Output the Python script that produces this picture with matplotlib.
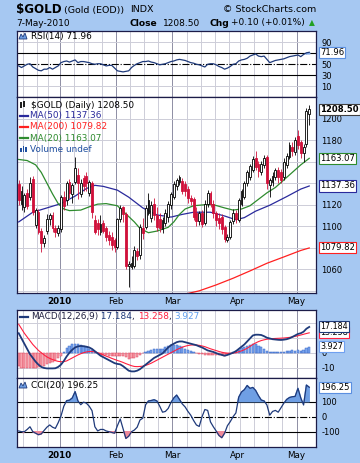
import numpy as np
import pandas as pd
import matplotlib
matplotlib.use("Agg")
import matplotlib.pyplot as plt
from matplotlib.patches import Polygon, Rectangle

plt.rcParams["font.family"] = ["DejaVu Sans"]
plt.rcParams["axes.unicode_minus"] = False

W, H = 360, 463
BG = "#a6c8f2"
RED = "#d0103a"
NAVY = "#1f3a7a"
MA50C = "#2a2a9c"
GREEN = "#2e8b2e"
MA200C = "#ff2020"

# ---- trading days shown on the chart ----
dates = pd.bdate_range("2009-12-10", "2010-05-07")
dates = dates[~dates.isin(pd.to_datetime(["2009-12-25", "2010-01-01", "2010-04-02"]))]

# ---- daily candles ----
opens = [1139, 1121, 1118, 1131, 1127, 1144, 1101, 1113, 1096, 1084, 1096, 1107, 1110, 1098, 1094,
         1097, 1127, 1124, 1141, 1130, 1141, 1148, 1130, 1145, 1147, 1131, 1140, 1106, 1103, 1095,
         1103, 1098, 1092, 1090, 1087,
         1081, 1107, 1118, 1111, 1063, 1062, 1063, 1077, 1073, 1098, 1099, 1112, 1108, 1121, 1110,
         1107, 1097, 1103, 1109, 1120,
         1127, 1137, 1141, 1142, 1139, 1135, 1126, 1125, 1112, 1105, 1112, 1103, 1121, 1131, 1121,
         1112, 1108, 1109, 1099, 1087, 1090, 1105, 1112,
         1106, 1121, 1127, 1140, 1146, 1152, 1163, 1158, 1150, 1157, 1164, 1138, 1141, 1146, 1152,
         1150, 1146, 1157, 1164, 1174, 1169,
         1184, 1178, 1168, 1176, 1204]
highs = [1143, 1137, 1131, 1135, 1146, 1147, 1117, 1116, 1098, 1092, 1111, 1112, 1113, 1101, 1101,
         1129, 1133, 1142, 1144, 1140, 1164, 1154, 1144, 1148, 1150, 1143, 1142, 1110, 1107, 1110,
         1106, 1100, 1096, 1095, 1089,
         1108, 1120, 1119, 1113, 1068, 1072, 1082, 1080, 1102, 1108, 1120, 1131, 1123, 1126, 1118,
         1112, 1109, 1116, 1123, 1132,
         1142, 1145, 1148, 1145, 1142, 1137, 1129, 1127, 1118, 1114, 1115, 1124, 1134, 1133, 1124,
         1114, 1112, 1111, 1101, 1093, 1106, 1116, 1115,
         1126, 1135, 1142, 1152, 1158, 1165, 1170, 1161, 1161, 1166, 1166, 1145, 1150, 1154, 1155,
         1153, 1163, 1168, 1178, 1178, 1183,
         1189, 1180, 1176, 1210, 1213]
lows = [1120, 1115, 1113, 1116, 1124, 1110, 1098, 1093, 1076, 1081, 1093, 1101, 1095, 1090, 1091,
        1095, 1115, 1120, 1126, 1122, 1139, 1125, 1127, 1133, 1133, 1128, 1108, 1093, 1092, 1092,
        1094, 1086, 1083, 1078, 1076,
        1079, 1104, 1104, 1060, 1044, 1060, 1061, 1069, 1070, 1088, 1097, 1110, 1104, 1106, 1096,
        1095, 1094, 1100, 1104, 1116,
        1125, 1134, 1138, 1130, 1128, 1122, 1120, 1106, 1100, 1101, 1099, 1101, 1118, 1118, 1108,
        1100, 1097, 1093, 1085, 1085, 1088, 1102, 1103,
        1104, 1119, 1125, 1137, 1143, 1150, 1152, 1146, 1148, 1154, 1135, 1127, 1137, 1143, 1140,
        1140, 1143, 1154, 1162, 1165, 1166,
        1172, 1163, 1160, 1174, 1194]
closes = [1124, 1133, 1129, 1119, 1140, 1113, 1115, 1095, 1084, 1089, 1107, 1110, 1098, 1095, 1098,
          1127, 1119, 1140, 1131, 1138, 1154, 1140, 1140, 1137, 1140, 1141, 1113, 1095, 1097, 1102,
          1096, 1090, 1087, 1083, 1081,
          1107, 1117, 1111, 1063, 1065, 1066, 1078, 1072, 1099, 1094, 1117, 1124, 1120, 1110, 1099,
          1098, 1106, 1112, 1121, 1130,
          1139, 1143, 1146, 1133, 1133, 1126, 1123, 1109, 1105, 1112, 1102, 1121, 1131, 1121, 1112,
          1106, 1103, 1097, 1088, 1090, 1104, 1112, 1107,
          1124, 1133, 1140, 1150, 1156, 1162, 1155, 1151, 1158, 1163, 1140, 1143, 1147, 1152, 1146,
          1143, 1160, 1165, 1175, 1170, 1180,
          1175, 1168, 1174, 1207, 1208.5]

# ---- moving averages ----
ma20_at = [0, 3, 6, 8, 10, 12, 14, 16, 18, 22, 25, 28, 31, 35, 37, 41, 43, 46, 49, 53, 55, 57,
           59, 62, 66, 69, 73, 76, 79, 82, 85, 88, 91, 94, 97, 100, 103]
ma20 = [1162, 1161, 1157, 1150, 1140, 1130, 1121, 1116, 1114.5, 1115, 1118, 1120.5, 1121, 1119,
        1114, 1104, 1098, 1094, 1095.5, 1099, 1104, 1111, 1116, 1119, 1120, 1120, 1117, 1115,
        1116, 1119, 1125, 1131, 1136, 1143, 1150, 1157, 1163.07]
ma50_at = [0, 5, 10, 15, 20, 24, 27, 30, 35, 39, 44, 49, 54, 58, 62, 68, 73, 77, 80, 84, 89, 95,
           100, 103]
ma50 = [1104, 1113, 1117, 1121, 1128, 1135, 1138, 1137, 1133.5, 1127, 1117, 1110.5, 1108.5, 1111,
        1113, 1113, 1109.5, 1106, 1108, 1114, 1119.5, 1127.5, 1134.5, 1137.36]
ma200_at = [59, 64, 70, 76, 82, 88, 94, 100, 103]
ma200 = [1037, 1040, 1045.5, 1051.7, 1058.5, 1065.6, 1071.5, 1077.5, 1079.82]

# ---- indicators ----
rsi = [47, 44, 47, 50, 51, 45, 42, 39, 38, 41, 41, 44, 41, 44, 47,
       53, 55, 56, 54, 56, 58, 53, 55, 55, 54, 53, 51, 50, 51, 51, 49, 47, 48, 48, 43,
       38, 37, 36, 37, 38, 44, 48, 51, 53, 55, 55, 56, 54, 53, 51, 49, 50, 51, 53, 55,
       56, 58, 59, 58, 57, 55, 53, 52, 50, 49, 47, 45, 50, 51, 51, 49, 46, 44, 41, 43, 46, 50, 51,
       56, 58, 59, 61, 65, 67, 69, 65, 64, 65, 59, 53, 55, 57, 58, 59, 60, 62, 64, 65, 66,
       67, 64, 68, 71, 71.96]
macd = [13, 9.5, 6, 2.5, -1, -3.5, -6, -8, -9.5, -10.2, -10.5, -10.5, -10.5, -10.4, -9.5,
        -8, -5.5, -2.5, 0, 2, 3.5, 4.2, 4.5, 4.3, 4, 3.5, 2.5, 1, -0.5, -2, -3, -4, -5, -6, -7,
        -7.5, -7.8, -9, -10.5, -12, -12.5, -12.5, -12, -11, -9.5, -8, -6.5, -5, -3.5, -2.5,
        -1.5, -0.5, 1.5, 3.5, 5,
        6, 7, 7.5, 7.5, 7, 6.5, 6, 5.5, 5, 4.2, 3.5, 2.5, 1.5, 1, 0.5, -0.3, -1, -1.5, -2, -1.5,
        -0.8, 0, 1,
        2.5, 4, 5.5, 7.5, 9.5, 11.5, 12, 12, 11.8, 11, 10, 9.5, 9, 8.8, 8.6, 8.5, 8.7, 9, 9.6,
        10.5, 11.5,
        12.5, 13, 14, 16, 17.184]
signal = [19, 16, 13, 10.5, 8, 5.5, 3.5, 1.5, 0, -1.5, -2.8, -3.8, -4.6, -5.3, -5.8,
          -6, -6, -5.5, -4.5, -3.5, -2.5, -1.5, -0.7, 0, 0.5, 0.8, 0.8, 0.5, 0, -0.7, -1.5, -2.3,
          -3, -3.8, -4.5,
          -5.2, -5.8, -6.5, -7.3, -8, -8.7, -9.2, -9.3, -9.2, -9, -8.5, -7.8, -7, -6, -5, -4, -3,
          -2, -1, 0,
          1, 2, 2.9, 3.7, 4.3, 4.8, 5.1, 5.2, 5.1, 4.9, 4.5, 4, 3.3, 2.6, 2, 1.4, 0.8, 0.3, -0.1,
          -0.4, -0.4, -0.3, 0,
          0.6, 1.2, 2, 3, 4.2, 5.5, 6.5, 7.4, 8.1, 8.6, 9, 9.2, 9.4, 9.5, 9.6, 9.7, 9.8, 10, 10.2,
          10.5, 10.9,
          11.3, 11.8, 12.3, 12.8, 13.258]
hist = [-9, -10, -10.5, -10.5, -10.5, -10, -10, -9.5, -9, -8.7, -7.7, -6.7, -5.9, -5.1, -3.7,
        -2, 0.5, 3, 4.5, 5.5, 6, 5.7, 5.2, 4.3, 3.5, 2.7, 1.7, 0.5, -0.5, -1.3, -1.5, -1.7, -2,
        -2.2, -2.5,
        -2.3, -2, -2.5, -3.2, -4, -3.8, -3.3, -2.7, -1.8, -0.5, 0.5, 1.3, 2, 2.5, 2.5, 2.5, 2.5,
        3.5, 4.5, 5,
        5, 5, 4.6, 3.8, 2.7, 1.7, 0.9, 0.3, -0.1, -0.7, -1, -1.5, -1.8, -1.6, -1.5, -1.7, -1.8,
        -1.8, -1.9, -1.1, -0.4, 0.3, 1,
        1.9, 2.8, 3.5, 4.5, 5.3, 6, 5.5, 4.6, 3.7, 2.4, 1, 0.5, 0.2, 0.3, 0.5, 0.3, 0.5, 0.8, 1,
        1.5, 1.2,
        1.8, 1.2, 2, 3.2, 3.927]
cci = [-95, -100, -100, -85, -67, -100, -110, -120, -115, -92, -70, -55, -70, -78, -40,
       5, 70, 107, 110, 125, 167, 105, 80, 97, 90, 70, 40, -67, -95, -85, -85, -95, -100, -105, -110,
       -60, -15, -80, -145, -130, -100, -89, -70, -22, -10, 80, 105, 108, 113, 105, 70, 30, 35, 55, 95,
       125, 144, 115, 85, 65, 35, 10, -25, -55, -65, 0, 48, 42, -35, -67, -95, -125, -140, -110,
       -60, -33, 0, 25,
       130, 165, 180, 208, 189, 195, 175, 140, 111, 105, 78, 10, 35, 42, 30, 60, 90, 115, 128, 133,
       135,
       189, 125, 78, 211, 196.25]

n = len(closes)
x = np.arange(n)
o, hi, lo, c = map(np.array, (opens, highs, lows, closes))


def fx(px):
    return px / W


def fy(py):
    return 1 - py / H


def box(l, t, r, b):
    return [l / W, 1 - b / H, (r - l) / W, (b - t) / H]


fig = plt.figure(figsize=(W / 100, H / 100), dpi=100, facecolor=BG)
ax_rsi = fig.add_axes(box(17, 31, 316, 97))
ax_px = fig.add_axes(box(17, 97, 316, 293))
ax_macd = fig.add_axes(box(17, 310, 316, 378))
ax_cci = fig.add_axes(box(17, 378, 316, 447))

week_starts = [i for i in range(1, n) if dates[i].weekday() < dates[i - 1].weekday()]
month_starts = [i for i in range(1, n) if dates[i].month != dates[i - 1].month]

for ax in (ax_rsi, ax_px, ax_macd, ax_cci):
    ax.set_facecolor("white")
    ax.set_xlim(-0.6, 105.4)
    for s in ax.spines.values():
        s.set_color("#1c1c48")
        s.set_linewidth(0.9)
    for i in week_starts:
        dark = i in month_starts
        ax.axvline(i - 0.5, color="#8e8ea4" if dark else "#cdcdd8", lw=0.7, zorder=0)
    ax.yaxis.tick_right()
    ax.tick_params(axis="y", length=0, pad=4, labelsize=6)
    ax.tick_params(axis="x", length=0, pad=3, labelsize=6.3)
    ax.set_axisbelow(True)
    ax.set_xticks([])


def hlines(ax, levels):
    for v in levels:
        ax.axhline(v, color="#cdcdd8", lw=0.7, zorder=0)


def ylabels(ax, levels):
    ax.set_yticks(levels)
    ax.set_yticklabels([str(v) for v in levels])


def tag(ax, yv, text, ec, bold=False, size=6.1):
    ax.annotate(text, xy=(1, yv), xycoords=("axes fraction", "data"), xytext=(3, 0),
                textcoords="offset points", ha="left", va="center", fontsize=size,
                fontweight="bold" if bold else "normal", annotation_clip=False, zorder=20,
                bbox=dict(boxstyle="square,pad=0.12", fc="white", ec=ec, lw=0.8))


def month_labels(ax):
    ax.set_xticks([m - 0.5 for m in month_starts])
    labels = ["2010" if dates[m].month == 1 else dates[m].strftime("%b") for m in month_starts]
    ax.set_xticklabels(labels)
    for t, lab in zip(ax.get_xticklabels(), labels):
        if lab == "2010":
            t.set_fontweight("bold")


# ---- RSI ----
rsi_a = np.array(rsi)
hlines(ax_rsi, [10, 90])
ax_rsi.plot(x, rsi_a, color=NAVY, lw=0.9, zorder=3)
ax_rsi.fill_between(x, rsi_a, 70, where=rsi_a >= 70, interpolate=True, color="#7fa8e8", zorder=2)
ax_rsi.fill_between(x, rsi_a, 30, where=rsi_a <= 30, interpolate=True, color="#f08a9a", zorder=2)
ax_rsi.axhline(70, color="black", lw=0.8, zorder=1)
ax_rsi.axhline(30, color="black", lw=0.8, zorder=1)
ax_rsi.axhline(50, color="black", lw=0.8, ls="-.", zorder=1)
ax_rsi.set_ylim(-10, 111)
ylabels(ax_rsi, [10, 30, 50, 90])
tag(ax_rsi, rsi[-1], f"{rsi[-1]:.2f}", "#5b8fe0")

# ---- price ----
hlines(ax_px, range(1040, 1220, 20))
up = c >= o
ax_px.vlines(x, lo, hi, colors=np.where(up, "black", RED), lw=0.6, zorder=3)
ax_px.bar(x, np.maximum(np.abs(c - o), 0.4), bottom=np.minimum(o, c), width=0.66,
          color=np.where(up, "white", RED), edgecolor=np.where(up, "black", RED), lw=0.6, zorder=4)
ax_px.plot(ma50_at, ma50, color=MA50C, lw=0.9, zorder=2)
ax_px.plot(ma200_at, ma200, color=MA200C, lw=0.9, zorder=2)
ax_px.plot(ma20_at, ma20, color=GREEN, lw=0.9, zorder=2)
ax_px.set_ylim(1038, 1220)
ylabels(ax_px, [1060, 1100, 1120, 1180, 1200])
month_labels(ax_px)
tag(ax_px, closes[-1], f"{closes[-1]:.2f}", "#404040", bold=True)
tag(ax_px, ma20[-1], f"{ma20[-1]:.2f}", GREEN)
tag(ax_px, ma50[-1], f"{ma50[-1]:.2f}", MA50C)
tag(ax_px, ma200[-1], f"{ma200[-1]:.2f}", MA200C)

# ---- MACD ----
hlines(ax_macd, [-10, 0, 10, 20])
h = np.array(hist)
ax_macd.bar(x, h, width=0.8, color=np.where(h >= 0, "#7aa6ee", "#f7a3ad"),
            edgecolor=np.where(h >= 0, "#3a68c8", "#e0405a"), lw=0.35, zorder=2)
ax_macd.plot(x, signal, color="#ff2040", lw=0.8, zorder=3)
ax_macd.plot(x, macd, color=NAVY, lw=1.3, zorder=4)
ax_macd.set_ylim(-16.9, 28.5)
ylabels(ax_macd, [-10, 0])
tag(ax_macd, signal[-1], f"{signal[-1]:.3f}", "#ff2040", size=5.8)
tag(ax_macd, macd[-1], f"{macd[-1]:.3f}", NAVY, size=5.8)
tag(ax_macd, hist[-1], f"{hist[-1]:.3f}", "#6fa0f0", size=5.8)

# ---- CCI ----
cci_a = np.array(cci)
ax_cci.fill_between(x, cci_a, 100, where=cci_a >= 100, interpolate=True, color="#6f9fe4", zorder=2)
ax_cci.fill_between(x, cci_a, -100, where=cci_a <= -100, interpolate=True, color="#f08a9a", zorder=2)
ax_cci.plot(x, cci_a, color=NAVY, lw=0.9, zorder=3)
ax_cci.axhline(100, color="black", lw=0.8, zorder=1)
ax_cci.axhline(-100, color="black", lw=0.8, zorder=1)
ax_cci.axhline(0, color="black", lw=0.8, ls="-.", zorder=1)
ax_cci.set_ylim(-202, 258)
ylabels(ax_cci, [-100, 0, 100])
month_labels(ax_cci)
tag(ax_cci, cci[-1], f"{cci[-1]:.2f}", "#5b8fe0")

# ---- header ----
fig.text(fx(16), fy(10), "$GOLD", fontsize=8.6, fontweight="bold", va="center")
fig.text(fx(64), fy(10), "(Gold (EOD))", fontsize=6.8, va="center")
fig.text(fx(130), fy(10), "INDX", fontsize=6.8, va="center")
fig.text(fx(316), fy(10), "© StockCharts.com", fontsize=6.8, va="center", ha="right")
fig.text(fx(16), fy(23), "7-May-2010", fontsize=6.5, va="center")
fig.text(fx(129), fy(23), "Close", fontsize=6.6, fontweight="bold", va="center")
fig.text(fx(163), fy(23), "1208.50", fontsize=6.5, va="center")
fig.text(fx(209), fy(23), "Chg", fontsize=6.6, fontweight="bold", va="center")
fig.text(fx(231), fy(23), "+0.10 (+0.01%)", fontsize=6.5, va="center")
fig.text(fx(312), fy(23), "▲", fontsize=5.5, color="#22a022", va="center", ha="center")


def mountain(px0, py0):
    pts = [(px0, py0 + 6), (px0 + 2, py0 + 1), (px0 + 4, py0 + 4), (px0 + 6, py0), (px0 + 8, py0 + 6)]
    fig.patches.append(Polygon([(fx(a), fy(b)) for a, b in pts], closed=True, fc="#6f9fe4",
                               ec=NAVY, lw=0.6, transform=fig.transFigure))


# RSI legend
mountain(19, 33)
fig.text(fx(31), fy(36.5), "RSI(14) 71.96", fontsize=6.4, va="center")

# price legend
for k in range(2):
    fig.patches.append(Rectangle((fx(20 + 3 * k), fy(108 - k)), fx(1.6), 6 / H, fc="#202020",
                                 transform=fig.transFigure))
fig.text(fx(31), fy(105), "$GOLD (Daily) 1208.50", fontsize=6.4, va="center")
leg = [("MA(50) 1137.36", MA50C), ("MA(200) 1079.82", MA200C), ("MA(20) 1163.07", GREEN)]
for k, (s, col) in enumerate(leg):
    yy = 116 + 11 * k
    fig.add_artist(plt.Line2D([fx(20), fx(28)], [fy(yy), fy(yy)], color=col, lw=1.6))
    fig.text(fx(29.5), fy(yy), s, fontsize=6.4, va="center", color=col)
for k, hh in enumerate([4, 6, 5]):
    fig.patches.append(Rectangle((fx(20 + 2.6 * k), fy(152)), fx(1.8), hh / H, fc="#2050a0",
                                 transform=fig.transFigure))
fig.text(fx(29.5), fy(149), "Volume undef", fontsize=6.4, va="center", color="#2050a0")

# MACD legend
fig.add_artist(plt.Line2D([fx(20), fx(28)], [fy(316.5), fy(316.5)], color=NAVY, lw=1.6))
t = fig.text(fx(31), fy(316.5), "MACD(12,26,9)", fontsize=6.4, va="center", color="#202040")
parts = [(" 17.184", NAVY), (", ", "#202040"), ("13.258", "#ff2040"), (", ", "#202040"),
         ("3.927", "#5f9fef")]
prev = t
for s, col in parts:
    prev = ax_macd.annotate(s, xy=(1, 0), xycoords=prev, ha="left", va="bottom", fontsize=6.4,
                            color=col)

# CCI legend
mountain(19, 382)
fig.text(fx(31), fy(385.5), "CCI(20) 196.25", fontsize=6.4, va="center")

fig.savefig("out.png", dpi=100, facecolor=BG)
